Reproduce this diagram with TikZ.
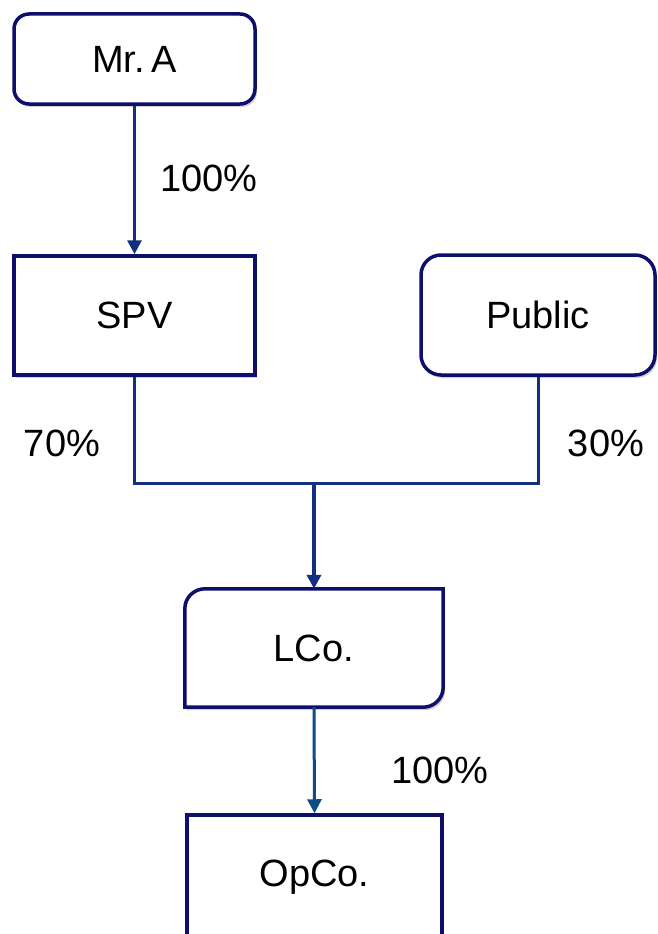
\documentclass[tikz,border=0pt]{standalone}
\usepackage{fontspec}
\setmainfont{Liberation Sans}
\usetikzlibrary{arrows.meta,shadows,backgrounds}
\definecolor{boxnavy}{HTML}{0E0E6C}
\definecolor{linknavy}{HTML}{12307E}
\definecolor{linkteal}{HTML}{0E4C84}
\tikzset{
  entity/.style={draw=boxnavy, line width=3.5pt, fill=white, inner sep=0pt,
    font=\fontsize{38}{45}\selectfont,
    drop shadow={shadow xshift=2pt, shadow yshift=-3pt, opacity=0.18, fill=black}},
  pct/.style={font=\fontsize{38}{45}\selectfont, inner sep=0pt},
  link/.style={draw=linknavy, line width=3pt},
  tip/.style={-{Triangle[length=14pt,width=14pt]}}
}
\begin{document}
\begin{tikzpicture}[x=1pt,y=1pt]
  \clip (0,0) rectangle (658,-934);

  % owners
  \node[entity, rounded corners=15pt, minimum width=241pt, minimum height=90pt] (mra) at (134.5,-59) {Mr.\,A};
  \node[entity, minimum width=241pt, minimum height=119pt] (spv) at (134.5,-315.5) {SPV};
  \node[entity, rounded corners=20pt, minimum width=234pt, minimum height=120pt] (pub) at (538,-315) {Public};

  % listed company: only two corners are rounded
  \node[inner sep=0pt, minimum width=258pt, minimum height=118pt, font=\fontsize{38}{45}\selectfont] (lco) at (314,-648) {LCo.};
  \begin{scope}[on background layer]
    \fill[white] (0,0) rectangle (658,-934);
    \path[draw=boxnavy, line width=3.5pt, fill=white,
          drop shadow={shadow xshift=2pt, shadow yshift=-3pt, opacity=0.18, fill=black}]
      (lco.south west) -- ([yshift=-20pt]lco.north west)
      arc[start angle=180, end angle=90, radius=20pt]
      -- (lco.north east) -- ([yshift=20pt]lco.south east)
      arc[start angle=0, end angle=-90, radius=20pt]
      -- cycle;
  \end{scope}

  % operating company, running off the page
  \node[entity, minimum width=255pt, minimum height=124pt] (opco) at (314.5,-877) {OpCo.};

  % ownership links
  \coordinate (join) at (314,-483);
  \draw[link, tip] (mra.south) -- (spv.north);
  \draw[link] (spv.south) |- (join) -| (pub.south);
  \draw[link, line width=3.5pt, tip] (join) -- (lco.north);
  \draw[link, draw=linkteal, tip] (lco.south) -- (opco.north);

  % percentages
  \node[pct] (p1) at (209,-178) {100\%};
  \node[pct] (p2) at (62,-443) {70\%};
  \node[pct] (p3) at (606,-443) {30\%};
  \node[pct] (p4) at (440,-770) {100\%};
\end{tikzpicture}
\end{document}
